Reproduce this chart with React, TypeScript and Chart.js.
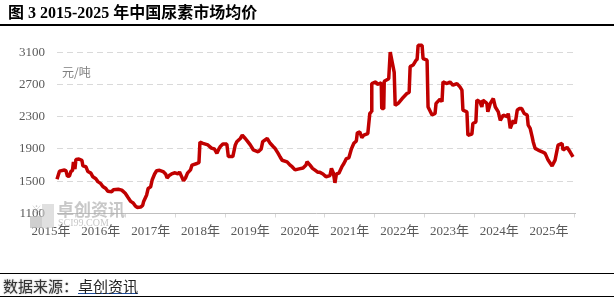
import React, { useEffect, useRef } from 'react';
import { Chart, registerables } from 'chart.js';

Chart.register(...registerables);

// ---- data ----
const dates: number[] = [
  2015.12, 2015.17, 2015.27, 2015.30, 2015.33, 2015.37, 2015.40, 2015.43, 2015.45, 2015.48,
  2015.50, 2015.56, 2015.62, 2015.64, 2015.70, 2015.74, 2015.80, 2015.84, 2015.90, 2015.94,
  2016.00, 2016.04, 2016.10, 2016.14, 2016.22, 2016.25, 2016.35, 2016.42, 2016.49, 2016.55,
  2016.60, 2016.65, 2016.69, 2016.73, 2016.80, 2016.84, 2016.86, 2016.92, 2016.95, 2017.00,
  2017.03, 2017.08, 2017.12, 2017.18, 2017.25, 2017.30, 2017.33, 2017.38, 2017.42, 2017.49,
  2017.55, 2017.58, 2017.62, 2017.66, 2017.70, 2017.74, 2017.80, 2017.83, 2017.93, 2017.97,
  2017.99, 2018.05, 2018.15, 2018.22, 2018.28, 2018.33, 2018.37, 2018.40, 2018.45, 2018.53,
  2018.56, 2018.65, 2018.70, 2018.73, 2018.80, 2018.84, 2018.90, 2018.95, 2019.00, 2019.06,
  2019.16, 2019.22, 2019.25, 2019.34, 2019.40, 2019.46, 2019.50, 2019.56, 2019.60, 2019.64,
  2019.74, 2019.80, 2019.84, 2019.90, 2019.96, 2020.06, 2020.12, 2020.14, 2020.20, 2020.25,
  2020.30, 2020.36, 2020.40, 2020.46, 2020.52, 2020.60, 2020.63, 2020.67, 2020.70, 2020.73,
  2020.78, 2020.84, 2020.88, 2020.93, 2020.98, 2021.03, 2021.08, 2021.13, 2021.15, 2021.20,
  2021.24, 2021.28, 2021.36, 2021.40, 2021.43, 2021.44, 2021.52, 2021.55, 2021.63, 2021.64,
  2021.68, 2021.69, 2021.78, 2021.81, 2021.89, 2021.91, 2021.97, 2022.05, 2022.15, 2022.19,
  2022.21, 2022.27, 2022.33, 2022.35, 2022.37, 2022.45, 2022.47, 2022.55, 2022.57, 2022.65,
  2022.71, 2022.73, 2022.81, 2022.85, 2022.87, 2022.95, 2023.01, 2023.07, 2023.15, 2023.21,
  2023.25, 2023.27, 2023.35, 2023.37, 2023.45, 2023.47, 2023.53, 2023.55, 2023.61, 2023.65,
  2023.67, 2023.75, 2023.77, 2023.82, 2023.88, 2023.92, 2023.98, 2024.02, 2024.08, 2024.16,
  2024.18, 2024.22, 2024.28, 2024.32, 2024.36, 2024.40, 2024.45, 2024.50, 2024.56, 2024.58,
  2024.62, 2024.66, 2024.68, 2024.72, 2024.78, 2024.86, 2024.92, 2024.98, 2025.06, 2025.12,
  2025.18, 2025.26, 2025.28, 2025.36, 2025.42, 2025.48,
];

const prices: number[] = [
  1525, 1625, 1640, 1630, 1560, 1565, 1625, 1630, 1740, 1650,
  1770, 1775, 1760, 1690, 1680, 1620, 1600, 1555, 1530, 1495,
  1470, 1435, 1410, 1375, 1370, 1395, 1400, 1390, 1350, 1295,
  1250, 1230, 1195, 1175, 1180, 1200, 1250, 1330, 1410, 1430,
  1515, 1590, 1630, 1635, 1620, 1590, 1540, 1575, 1590, 1605,
  1590, 1615, 1560, 1505, 1540, 1600, 1640, 1700, 1720, 1730,
  1985, 1970, 1950, 1910, 1900, 1845, 1900, 1930, 1960, 1960,
  1805, 1805, 1950, 1990, 2030, 2070, 2030, 1990, 1950, 1890,
  1865, 1900, 1990, 2030, 1970, 1930, 1905, 1845, 1800, 1760,
  1740, 1700, 1680, 1640, 1650, 1663, 1700, 1741, 1700, 1660,
  1638, 1610, 1610, 1590, 1555, 1570, 1660, 1600, 1480, 1590,
  1600, 1680, 1720, 1780, 1790, 1900, 1970, 2000, 2100, 2110,
  2040, 2070, 2090, 2340, 2360, 2710, 2730, 2700, 2720, 2400,
  2400, 2740, 2770, 3100, 2850, 2440, 2465, 2525, 2590, 2600,
  2920, 2940, 3000, 3010, 3185, 3185, 3020, 3000, 2420, 2320,
  2340, 2465, 2515, 2485, 2731, 2710, 2731, 2690, 2710, 2670,
  2630, 2380, 2360, 2070, 2085, 2215, 2235, 2505, 2485, 2420,
  2505, 2465, 2360, 2465, 2525, 2420, 2360, 2255, 2320, 2300,
  2340, 2155, 2255, 2215, 2380, 2400, 2400, 2340, 2320, 2195,
  2155, 2050, 1990, 1907, 1886, 1865, 1845, 1762, 1690, 1762,
  1948, 1969, 1886, 1920, 1865, 1803,
];

const yearTicks: number[] = [2015, 2016, 2017, 2018, 2019, 2020, 2021, 2022, 2023, 2024, 2025];
const yTicks: number[] = [1100, 1500, 1900, 2300, 2700, 3100];

const titleText = '图 3 2015-2025 年中国尿素市场均价';
const unitText = '元/吨';
const sourceLabel = '数据来源：';
const sourceName = '卓创资讯';
const watermarkCn = '卓创资讯';
const watermarkEn = 'SCI99.COM';

const AXIS_FONT = "'Liberation Serif', 'Noto Sans CJK SC', serif";

const watermarkPlugin = {
  id: 'watermark',
  afterDraw(chart: any) {
    const ctx = chart.ctx;
    ctx.save();
    ctx.globalAlpha = 0.65;
    ctx.fillStyle = '#b5b5b5';
    ctx.fillRect(30, 216, 12, 12);
    ctx.fillStyle = '#d0d0d0';
    ctx.fillRect(42, 216, 12, 12);
    ctx.fillRect(42, 204, 12, 12);
    ctx.fillStyle = '#a8a8a8';
    ctx.font = "bold 11px 'Noto Sans CJK SC'";
    ctx.textBaseline = 'middle';
    ctx.fillText('※', 31, 210);
    ctx.fillStyle = '#aaaaaa';
    ctx.font = "bold 17px 'Noto Sans CJK SC'";
    ctx.fillText(watermarkCn, 57, 210);
    ctx.font = "10px 'Liberation Serif'";
    ctx.fillText(watermarkEn, 58, 223);
    ctx.restore();
  },
};

function PriceChart() {
  const ref = useRef<HTMLCanvasElement | null>(null);
  useEffect(() => {
    if (!ref.current) return;
    const chart = new Chart(ref.current, {
      type: 'line',
      data: {
        datasets: [
          {
            data: dates.map((d, i) => ({ x: d, y: prices[i] })),
            borderColor: '#C00000',
            borderWidth: 3.5,
            borderJoinStyle: 'bevel',
            pointRadius: 0,
            tension: 0,
            fill: false,
            clip: false as any,
          },
        ],
      },
      options: {
        responsive: false,
        animation: false,
        devicePixelRatio: 1,
        layout: { padding: { left: 0, right: 39, top: 36, bottom: 0 } },
        plugins: {
          legend: { display: false },
          tooltip: { enabled: false },
        },
        scales: {
          x: {
            type: 'linear',
            min: 2015.12,
            max: 2025.52,
            afterBuildTicks: (s: any) => {
              s.ticks = yearTicks.map((v) => ({ value: v }));
            },
            afterFit: (s: any) => {
              s.height = 85.5;
            },
            grid: {
              display: true,
              drawOnChartArea: false,
              drawTicks: true,
              tickLength: 4,
              offset: true,
              color: '#d9d9d9',
            },
            border: { display: true, color: '#bfbfbf', width: 1 },
            ticks: {
              autoSkip: false,
              maxRotation: 0,
              minRotation: 0,
              padding: 6,
              color: '#595959',
              font: { family: AXIS_FONT, size: 13 },
              callback: (v: any) => `${v}年`,
            },
          },
          y: {
            min: 1100,
            max: 3300,
            afterBuildTicks: (s: any) => {
              s.ticks = yTicks.map((v) => ({ value: v }));
            },
            afterFit: (s: any) => {
              s.width = 57;
            },
            grid: {
              drawTicks: false,
              color: (c: any) => (c.tick && c.tick.value === 1100 ? 'rgba(0,0,0,0)' : '#d9d9d9'),
              lineWidth: 1,
            },
            border: { display: false, dash: [6, 4] },
            ticks: {
              padding: 12,
              color: '#595959',
              font: { family: AXIS_FONT, size: 13 },
              callback: (v: any) => String(v),
            },
          },
        },
      },
      plugins: [watermarkPlugin],
    } as any);
    return () => chart.destroy();
  }, []);
  return (
    <canvas
      ref={ref}
      width={614}
      height={299}
      style={{ position: 'absolute', left: 0, top: 0, width: 614, height: 299 }}
    />
  );
}

export default function App() {
  return (
    <div
      style={{
        position: 'absolute',
        left: 0,
        top: 0,
        width: 614,
        height: 299,
        background: '#ffffff',
        overflow: 'hidden',
      }}
    >
      <PriceChart />
      <div
        style={{
          position: 'absolute',
          left: 8,
          top: 3,
          fontFamily: "'Liberation Serif', 'Noto Sans CJK SC', serif",
          fontWeight: 700,
          fontSize: 16,
          lineHeight: '20px',
          color: '#000',
          whiteSpace: 'nowrap',
        }}
      >
        {titleText}
      </div>
      <div style={{ position: 'absolute', left: 0, top: 24, width: 614, height: 2, background: '#000' }} />
      <div
        style={{
          position: 'absolute',
          left: 62,
          top: 64,
          fontFamily: "'Noto Sans CJK SC', sans-serif",
          fontSize: 12,
          lineHeight: '16px',
          color: '#7f7f7f',
          whiteSpace: 'nowrap',
        }}
      >
        {unitText}
      </div>
      <div style={{ position: 'absolute', left: 0, top: 273, width: 614, height: 1, background: '#000' }} />
      <div
        style={{
          position: 'absolute',
          left: 3,
          top: 277,
          fontFamily: "'Noto Sans CJK SC', sans-serif",
          fontSize: 15,
          lineHeight: '18px',
          whiteSpace: 'nowrap',
        }}
      >
        <span style={{ color: '#333', textShadow: '0 0 2px #999' }}>{sourceLabel}</span>
        <span
          style={{
            color: '#222',
            textDecoration: 'underline',
            textDecorationColor: '#1f4e9c',
          }}
        >
          {sourceName}
        </span>
      </div>
      <div style={{ position: 'absolute', left: 0, top: 296, width: 614, height: 1, background: '#000' }} />
    </div>
  );
}
